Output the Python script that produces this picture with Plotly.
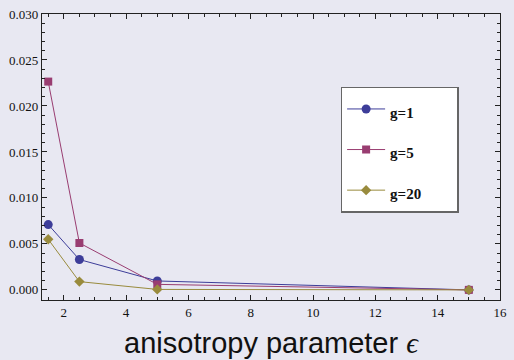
import plotly.graph_objects as go

eps = [1.5, 2.5, 5, 15]
g1 = [0.0071, 0.0033, 0.00097, 0.0000]
g5 = [0.02265, 0.0051, 0.0006, 0.0000]
g20 = [0.0055, 0.0009, 0.00005, 0.0000]
names = ["g=1", "g=5", "g=20"]
colors = ["#3d3d99", "#993d71", "#998b3d"]
symbols = ["circle", "square", "diamond"]

SERIF = "Liberation Serif"
fig = go.Figure()
for i, (ys, nm) in enumerate(zip([g1, g5, g20], names)):
    fig.add_trace(go.Scatter(
        x=eps, y=ys, mode="lines+markers", legendgroup=nm,
        name="<span style='font-size:15px'><b>" + nm + "</b>\u2003\u2003</span>",
        line=dict(color=colors[i], width=1),
        marker=dict(color=colors[i], symbol=symbols[i], size=9 if i == 0 else 8),
    ))

tickfont = dict(family=SERIF, size=13, color="#111")
axcommon = dict(showline=True, linecolor="#222", linewidth=1.2, mirror="allticks",
                ticks="inside", ticklen=5, tickcolor="#222", showgrid=False,
                zeroline=False, tickfont=tickfont)
fig.update_xaxes(range=[1.3, 16], dtick=2, tick0=0,
                 minor=dict(dtick=0.5, ticks="inside", ticklen=3, tickcolor="#222"),
                 title=dict(text="anisotropy parameter <i><span style='font-family:Liberation Serif'>ϵ</span></i>\u2002",
                            font=dict(family="Liberation Sans", size=29, color="#111"),
                            standoff=13),
                 **axcommon)
fig.update_yaxes(range=[-0.0011, 0.030], dtick=0.005, tick0=0, tickformat=".3f",
                 minor=dict(dtick=0.001, ticks="inside", ticklen=3, tickcolor="#222"),
                 **axcommon)
fig.update_layout(
    width=514, height=360,
    margin=dict(l=42, r=7, t=13, b=60),
    paper_bgcolor="#e8e8f2", plot_bgcolor="#e8e8f2",
    showlegend=True,
    legend=dict(x=0.652, y=0.746, xanchor="left", yanchor="top",
                bgcolor="white", bordercolor="#666", borderwidth=1.5,
                font=dict(family=SERIF, size=22, color="#111"),
                tracegroupgap=9, itemwidth=38),
)
fig.write_html("out.html", post_script="document.body.style.margin='0';",
               config={"displayModeBar": False})
